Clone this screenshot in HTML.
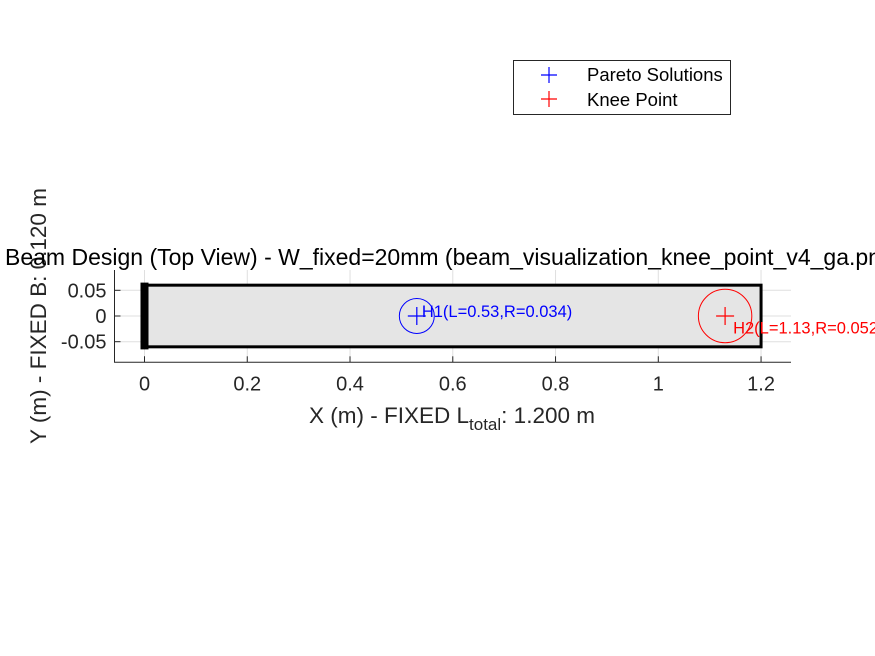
<!DOCTYPE html>
<html><head><meta charset="utf-8"><style>body{margin:0;background:#fff}svg{display:block;font-family:"Liberation Sans",Arial,sans-serif}</style></head>
<body>
<svg width="875" height="656" id="c">
<rect width="875" height="656" fill="#fff"/>
<g id="plot"></g>
<g>
<rect x="513.5" y="60.5" width="217" height="54" fill="#fff" stroke="#262626" stroke-width="1"/>
<g><path d="M541 75h16M549 67v16" stroke="#00f" stroke-width="1.2"/><text x="587" y="81" font-size="18.5" fill="#000">Pareto Solutions</text></g>
<g><path d="M541 99h16M549 91v16" stroke="#f00" stroke-width="1.2"/><text x="587" y="106" font-size="18.5" fill="#000">Knee Point</text></g>
</g>
</svg>
<script>
const xTicks=[0,0.2,0.4,0.6,0.8,1,1.2];
const xTickLabels=["0","0.2","0.4","0.6","0.8","1","1.2"];
const yTicks=[-0.05,0,0.05];
const yTickLabels=["-0.05","0","0.05"];
const holeNames=["H1","H2"];
const holeL=[0.53,1.13];
const holeR=[0.034,0.052];
const holeColors=["#00f","#f00"];
const beamLength=1.2;
const beamWidth=0.12;
const NS="http://www.w3.org/2000/svg";
const ax={l:114.5,r:791,t:270,b:362.3,x0:144.5,y0:316,k:513.8};
const X=v=>ax.x0+v*ax.k, Y=v=>ax.y0-v*ax.k;
const g=document.getElementById('plot');
function mk(t,a,txt){const e=document.createElementNS(NS,t);for(const k in a)e.setAttribute(k,a[k]);if(txt!==undefined)e.textContent=txt;g.appendChild(e);return e;}
xTicks.forEach((v,i)=>{let e=mk('line',{x1:X(v),x2:X(v),y1:ax.t,y2:ax.b,stroke:'#dfdfdf','stroke-width':1});

});
yTicks.forEach(v=>{let e=mk('line',{x1:ax.l,x2:ax.r,y1:Y(v),y2:Y(v),stroke:'#dfdfdf','stroke-width':1});

});
let beam=mk('rect',{x:X(0),y:Y(beamWidth/2),width:X(beamLength)-X(0),height:Y(-beamWidth/2)-Y(beamWidth/2),fill:'#e5e5e5',stroke:'#000','stroke-width':3});


let wall=mk('rect',{x:X(0)-4,y:Y(0.065),width:8,height:Y(-0.065)-Y(0.065),fill:'#000'});


holeL.forEach((L,i)=>{const c=holeColors[i];
let ci=mk('circle',{cx:X(L),cy:Y(0),r:holeR[i]*ax.k,fill:'none',stroke:c,'stroke-width':1});


let p=mk('path',{d:`M${X(L)-9} ${Y(0)}h18M${X(L)} ${Y(0)-9}v18`,stroke:c,'stroke-width':1.2});


const ty=i===0?Y(0)+1:Y(-0.03)+2;
let t=mk('text',{x:X(L)+(i===0?5:8),y:ty,'font-size':16.5,fill:c},`${holeNames[i]}(L=${L.toFixed(2)},R=${holeR[i].toFixed(3)})`);

});
let axl=mk('path',{d:`M${ax.l} ${ax.t}V${ax.b}H${ax.r}`,fill:'none',stroke:'#262626','stroke-width':1});


xTicks.forEach((v,i)=>{mk('line',{x1:X(v),x2:X(v),y1:ax.b,y2:ax.b-6,stroke:'#262626'});
let t=mk('text',{x:X(v),y:ax.b+28,'font-size':20,fill:'#262626','text-anchor':'middle'},xTickLabels[i]);

});
yTicks.forEach((v,i)=>{mk('line',{x1:ax.l,x2:ax.l+6,y1:Y(v),y2:Y(v),stroke:'#262626'});
let t=mk('text',{x:ax.l-8,y:Y(v)+7,'font-size':20,fill:'#262626','text-anchor':'end'},yTickLabels[i]);

});
let xt=mk('text',{x:452,y:423,'font-size':22.5,fill:'#262626','text-anchor':'middle'});
xt.innerHTML='X (m) - FIXED L<tspan font-size="17" dy="7">total</tspan><tspan dy="-7">: 1.200 m</tspan>';


let yt=mk('text',{x:0,y:0,'font-size':22.5,fill:'#262626','text-anchor':'middle',transform:'translate(46,316) rotate(-90)'},'Y (m) - FIXED B: 0.120 m');


let tt=mk('text',{x:5,y:265,'font-size':23,fill:'#000'},'Beam Design (Top View) - W_fixed=20mm (beam_visualization_knee_point_v4_ga.png)');


</script>
</body></html>
